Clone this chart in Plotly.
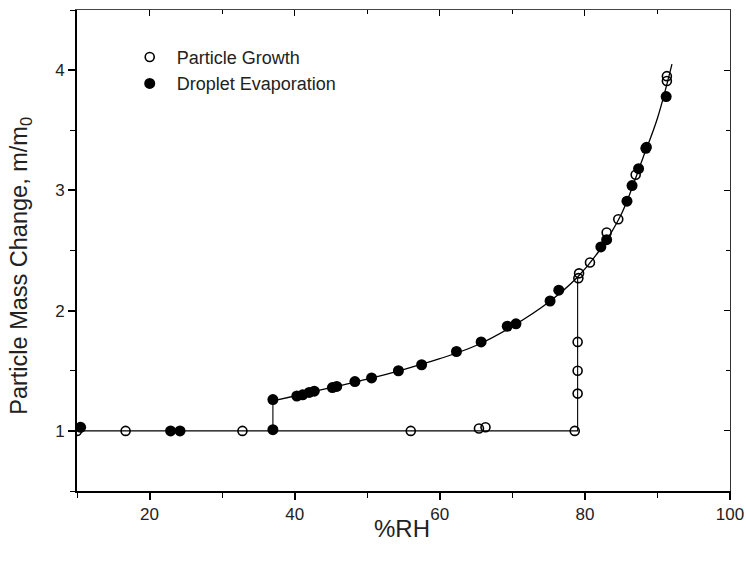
import plotly.graph_objects as go

# Particle growth (open circles)
growth_rh = [10.0, 16.7, 32.8, 56.0, 65.4, 66.3, 78.6, 79.0, 79.0, 79.0, 79.1, 79.2, 80.7, 83.0, 84.6, 87.0, 88.5, 91.3, 91.3]
growth_m = [1.00, 1.00, 1.00, 1.00, 1.02, 1.03, 1.00, 1.31, 1.50, 1.74, 2.27, 2.31, 2.40, 2.65, 2.76, 3.13, 3.36, 3.91, 3.95]

# Droplet evaporation (filled circles)
evap_rh = [10.5, 22.9, 24.2, 37.0, 37.0, 40.3, 41.1, 42.0, 42.7, 45.2, 45.8, 48.3, 50.6, 54.3, 57.5,
           62.3, 65.7, 69.3, 70.5, 75.2, 76.4, 82.2, 83.0, 85.8, 86.5, 87.4, 88.4, 91.2]
evap_m = [1.03, 1.00, 1.00, 1.01, 1.26, 1.29, 1.30, 1.32, 1.33, 1.36, 1.37, 1.41, 1.44, 1.50, 1.55,
          1.66, 1.74, 1.87, 1.89, 2.08, 2.17, 2.53, 2.59, 2.91, 3.04, 3.18, 3.35, 3.78]

# Fitted curve (deliquesced droplet branch)
curve_rh = [37.0, 40, 45, 50, 55, 60, 65, 70, 75, 79, 82, 85, 88, 90, 92]
curve_m = [1.25, 1.29, 1.36, 1.43, 1.51, 1.60, 1.71, 1.87, 2.07, 2.28, 2.50, 2.80, 3.27, 3.60, 4.05]

# Step paths
growth_path_rh = [10.0, 79.0, 79.0]
growth_path_m = [1.00, 1.00, 2.28]
evap_step_rh = [37.0, 37.0]
evap_step_m = [1.00, 1.25]

x_ticks = [20, 40, 60, 80, 100]
y_ticks = [1, 2, 3, 4]

FONT = "Arial, Liberation Sans, sans-serif"
TXT = "#222"

fig = go.Figure()
fig.add_trace(go.Scatter(x=curve_rh, y=curve_m, mode="lines", line=dict(color="black", width=1.3, shape="spline"),
                         showlegend=False, hoverinfo="skip"))
fig.add_trace(go.Scatter(x=growth_path_rh, y=growth_path_m, mode="lines", line=dict(color="black", width=1.1),
                         showlegend=False, hoverinfo="skip"))
fig.add_trace(go.Scatter(x=evap_step_rh, y=evap_step_m, mode="lines", line=dict(color="black", width=1.1),
                         showlegend=False, hoverinfo="skip"))
fig.add_trace(go.Scatter(x=growth_rh, y=growth_m, mode="markers", name="Particle Growth",
                         xaxis="x2", yaxis="y2",
                         marker=dict(symbol="circle-open", size=9, color="black", line=dict(width=1.6))))
fig.add_trace(go.Scatter(x=evap_rh, y=evap_m, mode="markers", name="Droplet Evaporation",
                         marker=dict(symbol="circle", size=11, color="black")))

fig.update_layout(
    width=746, height=567,
    margin=dict(l=77, r=16, t=10, b=76, autoexpand=False),
    plot_bgcolor="white", paper_bgcolor="white",
    font=dict(family=FONT, color=TXT, size=17),
    showlegend=True,
    legend=dict(x=0.07, y=0.94, xanchor="left", yanchor="top", bgcolor="rgba(0,0,0,0)",
                font=dict(size=18, color=TXT), tracegroupgap=0, itemwidth=44, traceorder="normal"),
    xaxis=dict(range=[10, 100], tickvals=x_ticks, ticks="outside", ticklen=7, tickwidth=1.5,
               tickcolor="black", showline=True, linecolor="black", linewidth=1.6, showgrid=False,
               zeroline=False, automargin=False,
               minor=dict(dtick=10, tick0=0, ticks="outside", ticklen=5, tickwidth=1.3, tickcolor="black"),
               tickfont=dict(size=17, color=TXT)),
    yaxis=dict(range=[0.5, 4.5], tickvals=y_ticks, ticks="outside", ticklen=7, tickwidth=1.5,
               tickcolor="black", showline=True, linecolor="black", linewidth=1.6, showgrid=False,
               zeroline=False, automargin=False,
               minor=dict(dtick=0.5, tick0=0, ticks="outside", ticklen=5, tickwidth=1.3, tickcolor="black"),
               tickfont=dict(size=17, color=TXT)),
    xaxis2=dict(overlaying="x", side="top", matches="x", range=[10, 100], tickvals=x_ticks, ticks="inside",
                ticklen=6, tickwidth=1.3, tickcolor="black", showticklabels=False, showline=True,
                linecolor="#444", linewidth=1, showgrid=False, zeroline=False, automargin=False,
                minor=dict(dtick=10, tick0=0, ticks="inside", ticklen=4, tickwidth=1.2, tickcolor="black"),
                anchor="y2"),
    yaxis2=dict(overlaying="y", side="right", matches="y", range=[0.5, 4.5], tickvals=y_ticks, ticks="inside",
                ticklen=6, tickwidth=1.3, tickcolor="black", showticklabels=False, showline=True,
                linecolor="#333", linewidth=1.3, showgrid=False, zeroline=False, automargin=False,
                minor=dict(dtick=0.5, tick0=0, ticks="inside", ticklen=4, tickwidth=1.2, tickcolor="black"),
                anchor="x2"),
    annotations=[
        dict(text="Particle Mass Change, m/m<sub>0</sub>", textangle=-90, xref="paper", yref="paper",
             x=-0.086, y=0.468, xanchor="center", yanchor="middle", showarrow=False,
             font=dict(size=23.5, color=TXT)),
        dict(text="%RH", xref="paper", yref="paper", x=0.497, y=-0.077, xanchor="center", yanchor="middle",
             showarrow=False, font=dict(size=24, color=TXT)),
    ],
)

fig.write_html("out.html")
